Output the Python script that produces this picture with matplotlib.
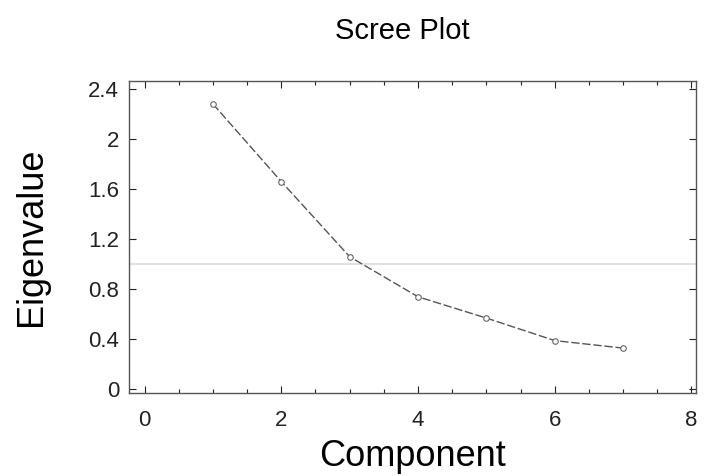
import matplotlib
matplotlib.use("Agg")
import matplotlib.pyplot as plt
from matplotlib.ticker import MultipleLocator

plt.rcParams['font.family'] = ['Liberation Sans', 'DejaVu Sans']

components = [1, 2, 3, 4, 5, 6, 7]
eigenvalues = [2.28, 1.66, 1.06, 0.74, 0.57, 0.39, 0.33]
threshold = 1.0
x_ticks = [0, 2, 4, 6, 8]
y_ticks = [0, 0.4, 0.8, 1.2, 1.6, 2.0, 2.4]
y_tick_labels = ["0", "0.4", "0.8", "1.2", "1.6", "2", "2.4"]

fig = plt.figure(figsize=(7.04, 4.76), dpi=100)
ax = fig.add_axes([0.183, 0.174, 0.806, 0.656])

ax.axhline(threshold, color='#dedede', lw=1.3, zorder=1)
ax.plot(components, eigenvalues, color='#555555', lw=1.0, ls=(0, (6, 2)),
        marker='o', markersize=4, markerfacecolor='white',
        markeredgecolor='#666666', markeredgewidth=0.8, zorder=2)

ax.set_xlim(-0.23, 8.07)
ax.set_ylim(-0.03, 2.464)
ax.set_xticks(x_ticks)
ax.set_yticks(y_ticks)
ax.set_yticklabels(y_tick_labels)
ax.xaxis.set_minor_locator(MultipleLocator(0.5))
ax.tick_params(which='both', direction='in', top=True, right=True,
               labelsize=16, colors='#222222', width=0.8)
ax.tick_params(which='major', length=5)
ax.tick_params(which='minor', length=3)
ax.tick_params(axis='x', pad=12)
ax.tick_params(axis='y', pad=7)
for s in ax.spines.values():
    s.set_color('#555555')
    s.set_linewidth(1.0)

ax.set_xlabel('Component', fontsize=26, labelpad=6)
ax.set_ylabel('Eigenvalue', fontsize=26, labelpad=28)
fig.text(0.572, 0.935, 'Scree Plot', ha='center', va='center', fontsize=21)

fig.savefig('out.png', dpi=100)
